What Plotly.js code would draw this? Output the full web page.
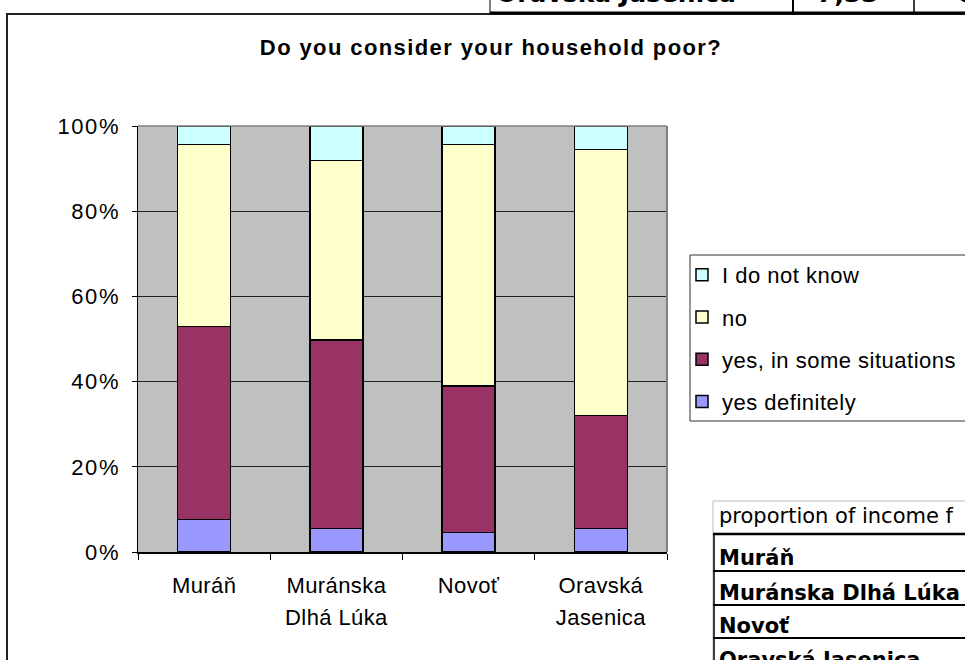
<!DOCTYPE html>
<html>
<head>
<meta charset="utf-8">
<script src="https://cdn.plot.ly/plotly-3.0.1.min.js"></script>
<style>html,body{margin:0;padding:0;background:#fff;}#chart{width:965px;height:660px;}</style>
</head>
<body>
<div id="chart"></div>
<script>
// ---- data ----
const categories = ['Muráň', 'Muránska Dlhá Lúka', 'Novoť', 'Oravská Jasenica'];
const tickLabels = ['Muráň', 'Muránska<br>Dlhá Lúka', 'Novoť', 'Oravská<br>Jasenica'];
const seriesNames = ['yes definitely', 'yes, in some situations', 'no', 'I do not know'];
const yesDefinitely = [7.6, 5.5, 4.6, 5.5];
const yesSome = [45.3, 44.3, 34.4, 26.6];
const no = [42.7, 42.1, 56.6, 62.4];
const dontKnow = [4.4, 8.1, 4.4, 5.5];
const yTickVals = [0, 20, 40, 60, 80, 100];
const yTickText = ['0%', '20%', '40%', '60%', '80%', '100%'];
const tableRows = ['Muráň', 'Muránska Dlhá Lúka', 'Novoť', 'Oravská Jasenica'];
const tableHeader = 'proportion of income f';
const topRow = ['Oravská Jasenica', '7,33', '6'];

const colors = ['#9999FF', '#993366', '#FFFFCC', '#CCFFFF'];
const values = [yesDefinitely, yesSome, no, dontKnow];

// pixel -> paper helpers (plot area: x 138..667, y 126..552)
const L = 138, R = 667, T = 126, B = 552;
const px = v => (v - L) / (R - L);
const py = v => (B - v) / (B - T);
const spaced = (t, s) => '<span style="letter-spacing:' + s + 'px">' + t + '</span>';

const traces = values.map((vals, i) => ({
  type: 'bar',
  name: spaced(seriesNames[i], 0.5),
  x: categories,
  y: vals,
  legendgroup: 'g' + i,
  legendrank: 10 - i,
  marker: {color: colors[i], line: {color: '#000', width: 1.5}},
  hoverinfo: 'skip'
}));

const shapes = [
  // chart frame
  {type: 'rect', xref: 'paper', yref: 'paper', x0: px(7), x1: px(990), y0: py(700), y1: py(14),
   line: {color: '#222', width: 2}, layer: 'below'},
  // plot area top & right borders
  {type: 'line', xref: 'paper', yref: 'paper', x0: 0, x1: 1, y0: 1, y1: 1, line: {color: '#808080', width: 1.5}},
  {type: 'line', xref: 'paper', yref: 'paper', x0: 1, x1: 1, y0: 0, y1: 1, line: {color: '#808080', width: 2}},
  // legend box
  {type: 'rect', xref: 'paper', yref: 'paper', x0: px(690), x1: px(1000), y0: py(421), y1: py(255),
   line: {color: '#333', width: 1}, fillcolor: '#fff', layer: 'below'},
  // top table (cut-off)
  {type: 'rect', xref: 'paper', yref: 'paper', x0: px(490), x1: px(1000), y0: py(13), y1: py(-20),
   line: {color: '#000', width: 1}, fillcolor: '#fff'},
  {type: 'line', xref: 'paper', yref: 'paper', x0: px(490), x1: px(1000), y0: py(13), y1: py(13), line: {color: '#000', width: 3}},
  {type: 'line', xref: 'paper', yref: 'paper', x0: px(793), x1: px(793), y0: py(14), y1: py(-5), line: {color: '#000', width: 2}},
  {type: 'line', xref: 'paper', yref: 'paper', x0: px(914), x1: px(914), y0: py(14), y1: py(-5), line: {color: '#000', width: 1.5}},
  // bottom table
  {type: 'rect', xref: 'paper', yref: 'paper', x0: px(713), x1: px(1000), y0: py(700), y1: py(501),
   line: {color: '#bbb', width: 1}, fillcolor: '#fff'},
  {type: 'line', xref: 'paper', yref: 'paper', x0: px(713), x1: px(1000), y0: py(534), y1: py(534), line: {color: '#000', width: 2.5}},
  {type: 'line', xref: 'paper', yref: 'paper', x0: px(713), x1: px(1000), y0: py(571), y1: py(571), line: {color: '#000', width: 2}},
  {type: 'line', xref: 'paper', yref: 'paper', x0: px(713), x1: px(1000), y0: py(605), y1: py(605), line: {color: '#000', width: 2}},
  {type: 'line', xref: 'paper', yref: 'paper', x0: px(713), x1: px(1000), y0: py(638), y1: py(638), line: {color: '#000', width: 2}},
  {type: 'line', xref: 'paper', yref: 'paper', x0: px(714), x1: px(714), y0: py(534), y1: py(700), line: {color: '#000', width: 1.5}}
];

const tableFont = {family: 'DejaVu Sans', size: 21, color: '#000'};
const annotations = [
  {xref: 'paper', yref: 'paper', x: px(717), y: py(530), text: tableHeader, showarrow: false,
   xanchor: 'left', yanchor: 'bottom', font: {family: 'DejaVu Sans', size: 21, color: '#000'}}
];
const rowBase = [566, 601, 634, 668];
tableRows.forEach((t, i) => annotations.push({
  xref: 'paper', yref: 'paper', x: px(717), y: py(rowBase[i] + 6), text: '<b>' + t + '</b>', showarrow: false,
  xanchor: 'left', yanchor: 'bottom', font: tableFont
}));
const topX = [494, 815, 955];
topRow.forEach((t, i) => annotations.push({
  xref: 'paper', yref: 'paper', x: px(topX[i]), y: py(10), text: '<b>' + t + '</b>', showarrow: false,
  xanchor: 'left', yanchor: 'bottom', font: {family: 'DejaVu Sans', size: 25, color: '#000'}
}));

const layout = {
  width: 965, height: 660,
  margin: {l: L, r: 965 - R, t: T, b: 660 - B, pad: 0, autoexpand: false},
  paper_bgcolor: '#fff',
  plot_bgcolor: '#C0C0C0',
  barmode: 'stack',
  bargap: 0.6,
  showlegend: true,
  title: {
    text: '<b>' + spaced('Do you consider your household poor?', 1.4) + '</b>',
    x: 491 / 965, xref: 'container', xanchor: 'center',
    y: 1 - 47 / 660, yref: 'container', yanchor: 'middle',
    font: {family: 'Liberation Sans, Arial', size: 22, color: '#000'}
  },
  font: {family: 'Liberation Sans, Arial', size: 22, color: '#000'},
  xaxis: {
    type: 'category',
    tickvals: categories,
    ticktext: tickLabels.map(t => '<span style="font-size:22px;letter-spacing:0.4px">' + t + '</span>'),
    tickfont: {family: 'Liberation Sans, Arial', size: 25, color: '#000'},
    ticks: 'outside', ticklen: 6, tickcolor: '#000', tickwidth: 1,
    tickson: 'boundaries',
    showline: true, linecolor: '#000', linewidth: 1.5,
    showgrid: false, zeroline: false,
    ticklabelstandoff: 9,
    fixedrange: true
  },
  yaxis: {
    range: [0, 100],
    tickvals: yTickVals, ticktext: yTickText.map(t => spaced(t, 1.6)),
    tickfont: {family: 'Liberation Sans, Arial', size: 22, color: '#000'},
    ticks: 'outside', ticklen: 5, tickcolor: '#000', tickwidth: 1,
    showline: true, linecolor: '#000', linewidth: 1.5,
    showgrid: true, gridcolor: '#222', gridwidth: 1,
    zeroline: false,
    ticklabelstandoff: 7,
    fixedrange: true
  },
  legend: {
    x: px(682), y: py(254), xanchor: 'left', yanchor: 'top',
    bgcolor: 'rgba(0,0,0,0)', borderwidth: 0,
    traceorder: 'grouped', tracegroupgap: 10.6,
    font: {family: 'Liberation Sans, Arial', size: 22, color: '#000'}
  },
  shapes: shapes,
  annotations: annotations
};

Plotly.newPlot('chart', traces, layout, {displayModeBar: false, staticPlot: true});
</script>
</body>
</html>
